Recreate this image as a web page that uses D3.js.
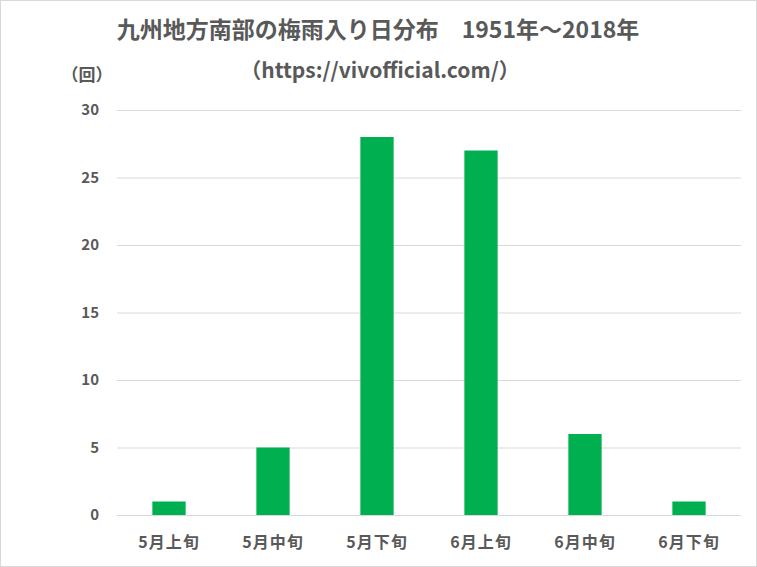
<!DOCTYPE html>
<html><head><meta charset="utf-8">
<script src="https://cdn.jsdelivr.net/npm/d3@7"></script>
<style>
html,body{margin:0;padding:0;background:#fff;}
svg{display:block;}
text{font-family:"Noto Sans CJK JP","Noto Sans",sans-serif;font-weight:bold;fill:#595959;}
</style></head>
<body>
<script>
const categories = ["5月上旬","5月中旬","5月下旬","6月上旬","6月中旬","6月下旬"];
const counts = [1,5,28,27,6,1];
const yTicks = [0,5,10,15,20,25,30];
const titleLines = ["九州地方南部の梅雨入り日分布　1951年～2018年","（https://vivofficial.com/）"];
const yUnit = "（回）";

const W = 757, H = 567;
const m = {left:117, right:16, top:110, bottom:52};
const svg = d3.select("body").append("svg").attr("width",W).attr("height",H);
svg.append("rect").attr("x",0.5).attr("y",0.5).attr("width",W-1).attr("height",H-1)
  .attr("fill","#fff").attr("stroke","#d9d9d9");

const x = d3.scaleBand().domain(categories).range([m.left, W-m.right]).paddingInner(0.68).paddingOuter(0.34);
const y = d3.scaleLinear().domain([0,30]).range([H-m.bottom, m.top]);

// gridlines
svg.append("g").selectAll("line").data(yTicks).join("line")
  .attr("x1",m.left).attr("x2",W-m.right)
  .attr("y1",d=>y(d)+0.5).attr("y2",d=>y(d)+0.5)
  .attr("stroke","#d9d9d9").attr("stroke-width",1);

// y axis labels
const yAxis = d3.axisLeft(y).tickValues(yTicks).tickSize(0).tickPadding(0);
const gy = svg.append("g").attr("transform",`translate(${99},0)`).call(yAxis);
gy.select(".domain").remove();
gy.selectAll("text").attr("font-size",15).attr("font-family",'"Noto Sans CJK JP",sans-serif').attr("font-weight","bold").attr("fill","#595959");

// bars
svg.append("g").selectAll("rect").data(counts).join("rect")
  .attr("x",(d,i)=>x(categories[i]))
  .attr("width",x.bandwidth())
  .attr("y",d=>y(d))
  .attr("height",d=>y(0)-y(d))
  .attr("fill","#00b050");

// x axis labels
const xAxis = d3.axisBottom(x).tickSize(0).tickPadding(0);
const gx = svg.append("g").attr("transform",`translate(0,${y(0)+28})`).call(xAxis);
gx.select(".domain").remove();
gx.selectAll("text").attr("font-size",16).attr("dy","0.32em").attr("font-family",'"Noto Sans CJK JP",sans-serif').attr("font-weight","bold").attr("fill","#595959").attr("letter-spacing","1px");

// titles
svg.append("text").attr("x",378).attr("y",38).attr("text-anchor","middle").attr("font-size",23).text(titleLines[0]);
svg.append("text").attr("x",380).attr("y",78).attr("text-anchor","middle").attr("font-size",21).text(titleLines[1]);
svg.append("text").attr("x",87).attr("y",81).attr("text-anchor","middle").attr("font-size",17).text(yUnit);
</script>
</body></html>
